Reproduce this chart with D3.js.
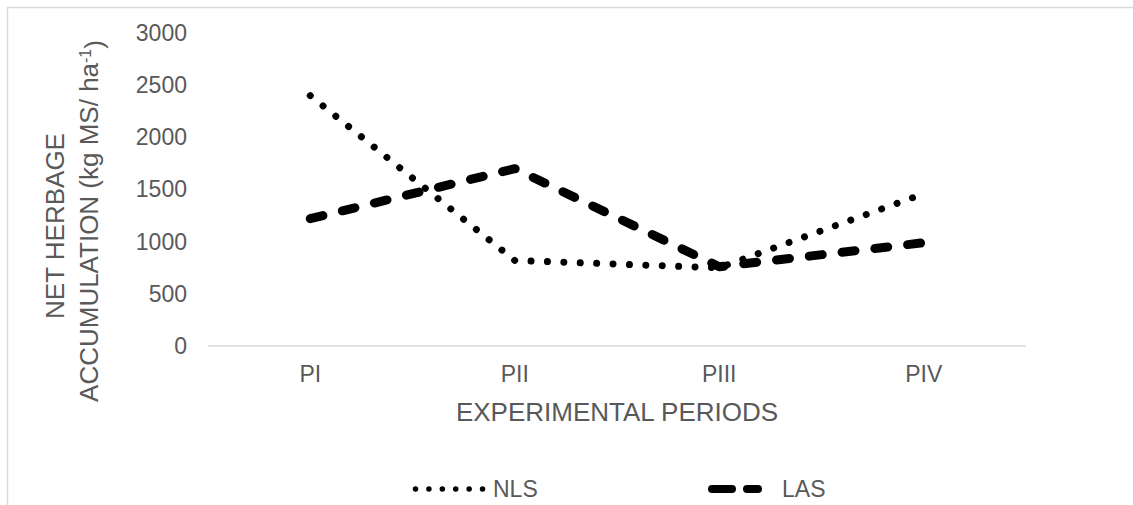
<!DOCTYPE html>
<html>
<head>
<meta charset="utf-8">
<script src="https://cdn.jsdelivr.net/npm/d3@7/dist/d3.min.js"></script>
<style>
  html, body { margin: 0; padding: 0; background: #fff; }
  svg { display: block; font-family: "Liberation Sans", Arial, sans-serif; }
</style>
</head>
<body>
<svg id="chart" width="1133" height="505"></svg>
<script>
const categories = ["PI", "PII", "PIII", "PIV"];
const nlsValues = [2400, 820, 750, 1460];
const lasValues = [1220, 1700, 760, 990];
const yTicks = [0, 500, 1000, 1500, 2000, 2500, 3000];
const seriesNames = ["NLS", "LAS"];

const svg = d3.select("#chart");
const W = 1133, H = 505;
const margin = { left: 208, right: 107, top: 33, bottom: 159 };
const plotW = W - margin.left - margin.right;
const plotH = H - margin.top - margin.bottom;

// chart border
svg.append("rect")
  .attr("x", 7.5).attr("y", 7.5)
  .attr("width", W + 20).attr("height", H + 20)
  .attr("fill", "#fff").attr("stroke", "#d9d9d9").attr("stroke-width", 1.5);

const g = svg.append("g").attr("transform", `translate(${margin.left},${margin.top})`);

const x = d3.scaleBand().domain(categories).range([0, plotW]);
const y = d3.scaleLinear().domain([0, 3000]).range([plotH, 0]);

// baseline
g.append("line")
  .attr("x1", 0).attr("x2", plotW)
  .attr("y1", y(0)).attr("y2", y(0))
  .attr("stroke", "#d9d9d9").attr("stroke-width", 1.5);

// y axis labels
const yAxis = d3.axisLeft(y).tickValues(yTicks).tickSize(0).tickPadding(21).tickFormat(d3.format("d"));
const yg = g.append("g").call(yAxis);
yg.select(".domain").remove();
yg.selectAll("text").attr("fill", "#595959").style("font-size", "23px")
  .attr("font-family", "Liberation Sans, Arial, sans-serif");

// x axis labels
const xAxis = d3.axisBottom(x).tickSize(0).tickPadding(20);
const xg = g.append("g").attr("transform", `translate(0,${plotH})`).call(xAxis);
xg.select(".domain").remove();
xg.selectAll("text").attr("fill", "#595959").style("font-size", "23px")
  .attr("font-family", "Liberation Sans, Arial, sans-serif");

// axis titles
svg.append("text")
  .attr("x", margin.left + plotW / 2).attr("y", 421)
  .attr("text-anchor", "middle").attr("fill", "#595959")
  .style("font-size", "26px")
  .text("EXPERIMENTAL PERIODS");

const yt1 = svg.append("text")
  .attr("transform", "translate(64,226) rotate(-90)")
  .attr("text-anchor", "middle").attr("fill", "#595959")
  .style("font-size", "26px")
  .text("NET HERBAGE");

const yt2 = svg.append("text")
  .attr("transform", "translate(98,221) rotate(-90)")
  .attr("text-anchor", "middle").attr("fill", "#595959")
  .style("font-size", "26px");
yt2.append("tspan").text("ACCUMULATION (kg MS/ ha");
yt2.append("tspan").attr("dy", "-0.45em").style("font-size", "16px").text("-1");
yt2.append("tspan").attr("dy", "0.45em").text(")");

// lines
const line = d3.line()
  .x((d, i) => x(categories[i]) + x.bandwidth() / 2)
  .y(d => y(d));

g.append("path").datum(lasValues)
  .attr("d", line)
  .attr("fill", "none").attr("stroke", "#000")
  .attr("stroke-width", 9).attr("stroke-linecap", "round").attr("stroke-linejoin", "round")
  .attr("stroke-dasharray", "13 20");

g.append("path").datum(nlsValues)
  .attr("d", line)
  .attr("fill", "none").attr("stroke", "#000")
  .attr("stroke-width", 7).attr("stroke-linecap", "round").attr("stroke-linejoin", "round")
  .attr("stroke-dasharray", "0.01 16.4");

// legend
const leg = svg.append("g");
leg.append("line")
  .attr("x1", 415.5).attr("x2", 483).attr("y1", 489).attr("y2", 489)
  .attr("stroke", "#000").attr("stroke-width", 5.5).attr("stroke-linecap", "round")
  .attr("stroke-dasharray", "0.01 13.4");
leg.append("text").attr("x", 493).attr("y", 497)
  .attr("fill", "#595959").style("font-size", "23px").text(seriesNames[0]);

leg.append("line")
  .attr("x1", 712).attr("x2", 758).attr("y1", 489).attr("y2", 489)
  .attr("stroke", "#000").attr("stroke-width", 8).attr("stroke-linecap", "round")
  .attr("stroke-dasharray", "20 15");
leg.append("text").attr("x", 782).attr("y", 497)
  .attr("fill", "#595959").style("font-size", "23px").text(seriesNames[1]);
</script>
</body>
</html>
